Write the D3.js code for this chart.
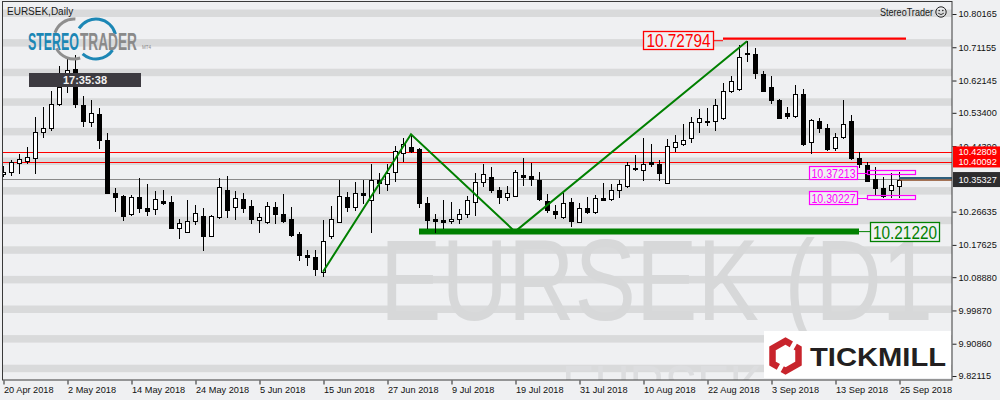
<!DOCTYPE html>
<html><head><meta charset="utf-8">
<script src="https://cdn.jsdelivr.net/npm/d3@7"></script>
<style>
html,body{margin:0;padding:0;background:#eff0f2;}
svg{display:block;font-family:"Liberation Sans",Arial,sans-serif;}
</style>
</head><body>
<svg id="chart" width="1000" height="400"></svg>
<script>
// ---------------- data ----------------
const symbolName = "EURSEK";
const periodName = "Daily";
const xTickLabels = ["20 Apr 2018","2 May 2018","14 May 2018","24 May 2018","5 Jun 2018","15 Jun 2018","27 Jun 2018","9 Jul 2018","19 Jul 2018","31 Jul 2018","10 Aug 2018","22 Aug 2018","3 Sep 2018","13 Sep 2018","25 Sep 2018"];
const yTickValues = [10.80165,10.71155,10.62145,10.53400,10.44390,10.26635,10.17625,10.08880,9.99870,9.90860,9.82115];

const open = [10.368,10.373,10.397,10.403,10.412,10.481,10.492,10.559,10.639,10.652,10.555,10.510,10.531,10.460,10.316,10.309,10.261,10.306,10.276,10.273,
10.295,10.292,10.221,10.212,10.242,10.255,10.201,10.253,10.325,10.278,10.301,10.282,10.243,10.239,10.278,10.260,10.246,10.206,10.149,10.144,
10.104,10.199,10.239,10.306,10.278,10.317,10.297,10.352,10.340,10.373,10.424,10.441,10.435,10.289,10.247,10.244,10.240,10.247,10.259,10.293,
10.346,10.360,10.325,10.307,10.310,10.366,10.363,10.352,10.295,10.268,10.253,10.293,10.239,10.275,10.266,10.303,10.300,10.325,10.336,10.384,
10.378,10.402,10.395,10.345,10.441,10.450,10.465,10.508,10.513,10.511,10.519,10.594,10.598,10.695,10.693,10.639,10.603,10.569,10.533,10.526,
10.585,10.454,10.512,10.494,10.438,10.468,10.513,10.412,10.394,10.354,10.330,10.324,10.337];
const high = [10.390,10.406,10.422,10.441,10.524,10.549,10.594,10.661,10.683,10.691,10.580,10.569,10.547,10.479,10.330,10.312,10.312,10.358,10.341,10.323,
10.325,10.309,10.246,10.298,10.284,10.276,10.257,10.358,10.363,10.322,10.316,10.298,10.262,10.293,10.293,10.314,10.278,10.212,10.163,10.163,
10.244,10.282,10.352,10.320,10.347,10.352,10.395,10.370,10.395,10.444,10.465,10.476,10.438,10.305,10.260,10.298,10.293,10.274,10.309,10.372,
10.395,10.388,10.334,10.336,10.379,10.412,10.397,10.375,10.314,10.284,10.316,10.303,10.289,10.307,10.312,10.345,10.341,10.352,10.402,10.420,
10.465,10.450,10.406,10.464,10.474,10.505,10.523,10.544,10.546,10.571,10.616,10.634,10.718,10.728,10.709,10.648,10.634,10.571,10.549,10.609,
10.599,10.518,10.519,10.504,10.480,10.569,10.528,10.427,10.402,10.388,10.361,10.370,10.375];
const low = [10.363,10.366,10.370,10.398,10.372,10.469,10.488,10.555,10.590,10.551,10.499,10.499,10.440,10.316,10.269,10.244,10.257,10.266,10.257,10.260,
10.287,10.221,10.196,10.210,10.233,10.163,10.200,10.248,10.253,10.246,10.266,10.235,10.212,10.236,10.235,10.238,10.200,10.135,10.122,10.095,
10.093,10.196,10.237,10.269,10.271,10.289,10.212,10.318,10.325,10.350,10.404,10.428,10.278,10.221,10.212,10.221,10.235,10.236,10.251,10.257,
10.336,10.320,10.291,10.298,10.309,10.339,10.339,10.298,10.266,10.248,10.248,10.227,10.237,10.263,10.262,10.297,10.297,10.307,10.334,10.379,
10.352,10.389,10.351,10.344,10.431,10.448,10.456,10.483,10.501,10.488,10.518,10.591,10.597,10.673,10.628,10.592,10.561,10.520,10.519,10.522,
10.448,10.424,10.481,10.433,10.433,10.467,10.408,10.388,10.350,10.312,10.306,10.305,10.307];
const close = [10.374,10.400,10.408,10.415,10.481,10.492,10.557,10.604,10.650,10.557,10.512,10.534,10.460,10.318,10.307,10.255,10.306,10.277,10.269,10.300,
10.290,10.223,10.235,10.242,10.262,10.199,10.255,10.332,10.272,10.303,10.277,10.246,10.251,10.282,10.259,10.242,10.203,10.150,10.144,10.110,
10.186,10.246,10.308,10.280,10.316,10.311,10.352,10.345,10.370,10.431,10.449,10.431,10.289,10.244,10.242,10.238,10.246,10.259,10.298,10.347,
10.368,10.325,10.307,10.316,10.374,10.360,10.355,10.301,10.271,10.259,10.289,10.242,10.275,10.266,10.303,10.298,10.325,10.341,10.393,10.381,
10.395,10.395,10.372,10.444,10.454,10.460,10.509,10.519,10.510,10.555,10.593,10.620,10.684,10.692,10.643,10.594,10.569,10.521,10.526,10.585,
10.449,10.515,10.492,10.436,10.468,10.503,10.411,10.395,10.350,10.330,10.309,10.339,10.35327];

const resistanceLevels = [10.42809, 10.40092];
const lastPrice = 10.35327;
const peakLevel = 10.72794;
const supportLevel = 10.21220;
const boxLevels = [10.37213, 10.30227];
const zigzagBars = [40, 51, 64, 93];
const zigzagPrices = [10.1037, 10.4758, 10.2122, 10.72794];
const clockText = "17:35:38";

// ---------------- layout ----------------
const svg = d3.select("#chart");
const L = 3, R = 952, T = 2, B = 380;
const BG = "#eff0f2", BAND = "#d9dadb";

const x = d3.scaleLinear().domain([0, 112]).range([3, 899]);
const y = d3.scaleLinear().domain([9.82115, 10.80165]).range([376, 14]);
const px = i => Math.round(x(i));
const py = v => Math.round(y(v));

svg.append("rect").attr("width",1000).attr("height",400).attr("fill",BG);

const defs = svg.append("defs");
defs.append("clipPath").attr("id","plot").append("rect")
  .attr("x",L).attr("y",T).attr("width",R-L).attr("height",B-T);

const plot = svg.append("g").attr("clip-path","url(#plot)");

// background bands
plot.selectAll("rect.band").data(d3.range(13)).join("rect")
  .attr("class","band").attr("x",L).attr("width",R-L)
  .attr("y",k => 9.5 + 29.6*k).attr("height",7.5).attr("fill",BAND);

// watermark
plot.append("text").attr("x",380).attr("y",320)
  .attr("font-size",115).attr("fill","#d7d8d9")
  .attr("textLength",553).attr("lengthAdjust","spacingAndGlyphs")
  .text(symbolName + " (D1");
plot.append("text").attr("x",562).attr("y",407)
  .attr("font-size",60).attr("fill","#dcdddf")
  .attr("textLength",200).attr("lengthAdjust","spacingAndGlyphs")
  .text(symbolName);

// full-width horizontal lines
plot.selectAll("line.res").data(resistanceLevels).join("line")
  .attr("x1",L).attr("x2",R).attr("y1",d=>py(d)+0.5).attr("y2",d=>py(d)+0.5)
  .attr("stroke","#ff0000").attr("stroke-width",1);
plot.append("line").attr("x1",L).attr("x2",R)
  .attr("y1",py(lastPrice)-0.5).attr("y2",py(lastPrice)-0.5)
  .attr("stroke","#8a8a8a").attr("stroke-width",1);

// support thick line + label
const sy = y(supportLevel);
plot.append("line").attr("x1",x(52)).attr("x2",x(107)).attr("y1",sy).attr("y2",sy)
  .attr("stroke","#008000").attr("stroke-width",6);
plot.append("line").attr("x1",x(107)).attr("x2",870).attr("y1",sy).attr("y2",sy)
  .attr("stroke","#008000").attr("stroke-width",1);
plot.append("rect").attr("x",870.5).attr("y",Math.round(sy)-9.5).attr("width",69).attr("height",19)
  .attr("fill",BG).attr("stroke","#008000").attr("stroke-width",1.3);
plot.append("text").attr("x",905).attr("y",Math.round(sy)+6.5).attr("text-anchor","middle")
  .attr("font-size",18.5).attr("fill","#008000")
  .attr("textLength",64).attr("lengthAdjust","spacingAndGlyphs")
  .text(d3.format(".5f")(supportLevel));

// candles
const idx = d3.range(open.length);
const cg = plot.append("g");
cg.selectAll("line.wick").data(idx).join("line")
  .attr("x1",i=>px(i)+0.5).attr("x2",i=>px(i)+0.5)
  .attr("y1",i=>py(high[i])).attr("y2",i=>py(low[i])+1)
  .attr("stroke","#000").attr("stroke-width",1);
cg.selectAll("rect.body").data(idx).join("rect")
  .attr("x",i=> close[i]>=open[i] ? px(i)-1.5 : px(i)-2)
  .attr("width",i=> close[i]>=open[i] ? 4 : 5)
  .attr("y",i=>{const t=py(Math.max(open[i],close[i])); return close[i]>=open[i] ? t+0.5 : t;})
  .attr("height",i=>{const h=Math.abs(py(open[i])-py(close[i])); return close[i]>=open[i] ? Math.max(h,1) : Math.max(h,1)+1;})
  .attr("fill",i=> close[i]>=open[i] ? "#ffffff" : "#000000")
  .attr("stroke",i=> close[i]>=open[i] ? "#000" : "none")
  .attr("stroke-width",1);

// peak level line + label
const ry = y(peakLevel) - 2.5;
plot.append("line").attr("x1",x(90)).attr("x2",906).attr("y1",ry).attr("y2",ry)
  .attr("stroke","#ff0000").attr("stroke-width",2.2);
plot.append("line").attr("x1",713).attr("x2",x(90)).attr("y1",ry+2).attr("y2",ry+2)
  .attr("stroke","#ff0000").attr("stroke-width",1);
plot.append("rect").attr("x",643.5).attr("y",31.5).attr("width",70).attr("height",18)
  .attr("fill",BG).attr("stroke","#ff0000").attr("stroke-width",1.3);
plot.append("text").attr("x",678.5).attr("y",47).attr("text-anchor","middle")
  .attr("font-size",18.5).attr("fill","#ff0000")
  .attr("textLength",64).attr("lengthAdjust","spacingAndGlyphs")
  .text(d3.format(".5f")(peakLevel));

// zigzag
plot.append("path")
  .attr("d", d3.line().x(d=>x(d[0])).y(d=>y(d[1]))(zigzagBars.map((b,k)=>[b,zigzagPrices[k]])))
  .attr("fill","none").attr("stroke","#008000").attr("stroke-width",2);

// magenta boxes
const mg = "#ff00ff";
boxLevels.forEach(v => {
  const cy = Math.round(y(v));
  plot.append("rect").attr("x",x(108)+0.5).attr("y",cy-2.5).attr("width",x(114)-x(108)).attr("height",4)
    .attr("fill","none").attr("stroke",mg).attr("stroke-width",1.2);
  plot.append("line").attr("x1",857).attr("x2",x(108)).attr("y1",cy+0.5).attr("y2",cy+0.5)
    .attr("stroke",mg).attr("stroke-width",1);
  plot.append("rect").attr("x",809.5).attr("y",cy-6.5).attr("width",48).attr("height",13)
    .attr("fill",BG).attr("stroke",mg).attr("stroke-width",1.2);
  plot.append("text").attr("x",833.5).attr("y",cy+4.5).attr("text-anchor","middle")
    .attr("font-size",12.5).attr("fill",mg)
    .attr("textLength",44).attr("lengthAdjust","spacingAndGlyphs")
    .text(d3.format(".5f")(v));
});

// current price segment
const cy0 = y(lastPrice);
plot.append("line").attr("x1",x(112)).attr("x2",R).attr("y1",cy0-1.5).attr("y2",cy0-1.5)
  .attr("stroke","#2e5f7c").attr("stroke-width",2);
plot.append("line").attr("x1",x(112)).attr("x2",R).attr("y1",cy0+0.5).attr("y2",cy0+0.5)
  .attr("stroke","#8b4a22").attr("stroke-width",1.2);

// frame
svg.append("rect").attr("x",2.5).attr("y",1.5).attr("width",R-2.5).attr("height",B-1.5)
  .attr("fill","none").attr("stroke","#3a3a3a").attr("stroke-width",1);

// axes
const yAxis = svg.append("g").attr("transform",`translate(${R+0.5},0)`)
  .call(d3.axisRight(y).tickValues(yTickValues).tickFormat(d3.format(".5f")).tickSize(4).tickPadding(2));
yAxis.select(".domain").remove();
yAxis.selectAll("line").attr("stroke","#222");
yAxis.selectAll("text").attr("font-size",9.2).attr("fill","#111").attr("font-family","Liberation Sans, Arial, sans-serif");

const xAxis = svg.append("g").attr("transform",`translate(0.5,${B+0.5})`)
  .call(d3.axisBottom(x).tickValues(d3.range(0,113,8)).tickFormat((d,i)=>xTickLabels[i]).tickSize(4));
xAxis.select(".domain").remove();
xAxis.selectAll("line").attr("stroke","#222");
xAxis.selectAll("text").attr("text-anchor","start").attr("x",0).attr("y",6).attr("dy","0.71em")
  .attr("font-size",9.2).attr("fill","#111").attr("font-family","Liberation Sans, Arial, sans-serif");

// axis price labels
resistanceLevels.forEach(v => {
  const c = y(v);
  svg.append("rect").attr("x",953).attr("y",c-5.5).attr("width",47).attr("height",11).attr("fill","#ff0000");
});
resistanceLevels.forEach(v => {
  svg.append("text").attr("x",958.5).attr("y",y(v)+3.3).attr("font-size",9.2).attr("fill","#fff")
    .text(d3.format(".5f")(v));
});
svg.append("rect").attr("x",953).attr("y",cy0-7.5).attr("width",47).attr("height",15).attr("fill","#2d2d2f");
svg.append("text").attr("x",958.5).attr("y",cy0+3.3).attr("font-size",9.2).attr("fill","#fff")
  .text(d3.format(".5f")(lastPrice));

// title
svg.append("text").attr("x",7).attr("y",14.5).attr("font-size",10).attr("fill","#1a1a1a")
  .text(symbolName + "," + periodName);
svg.append("text").attr("x",880).attr("y",15.5).attr("font-size",10).attr("fill","#1a1a1a")
  .attr("textLength",53).attr("lengthAdjust","spacingAndGlyphs").text("StereoTrader");
const sm = svg.append("g").attr("transform","translate(941,12)");
sm.append("circle").attr("r",5.2).attr("fill","none").attr("stroke","#222").attr("stroke-width",1);
sm.append("circle").attr("cx",-1.8).attr("cy",-1.5).attr("r",0.8).attr("fill","#222");
sm.append("circle").attr("cx",1.8).attr("cy",-1.5).attr("r",0.8).attr("fill","#222");
sm.append("path").attr("d","M-2.8,1.2 Q0,4 2.8,1.2").attr("fill","none").attr("stroke","#222").attr("stroke-width",0.9);

// StereoTrader logo
const deg = Math.PI/180;
const arc = d3.arc().innerRadius(18.5).outerRadius(21.5);
const lg = svg.append("g");
lg.append("path").attr("transform","translate(74,39)").attr("fill","#8e8e8e")
  .attr("d",arc({startAngle:-72*deg,endAngle:4*deg}));
lg.append("path").attr("transform","translate(74,39)").attr("fill","#8e8e8e")
  .attr("d",arc({startAngle:162*deg,endAngle:242*deg}));
lg.append("path").attr("transform","translate(96,39)").attr("fill","#1c87b5")
  .attr("d",arc({startAngle:-58*deg,endAngle:76*deg}));
lg.append("path").attr("transform","translate(96,39)").attr("fill","#1c87b5")
  .attr("d",arc({startAngle:124*deg,endAngle:222*deg}));
lg.append("text").attr("x",28).attr("y",50).attr("font-size",24).attr("font-weight","bold")
  .attr("fill","#1c87b5").attr("textLength",51).attr("lengthAdjust","spacingAndGlyphs").text("STEREO");
lg.append("text").attr("x",80).attr("y",50).attr("font-size",24).attr("font-weight","bold")
  .attr("fill","#8a8a8a").attr("textLength",57).attr("lengthAdjust","spacingAndGlyphs").text("TRADER");
lg.append("text").attr("x",142).attr("y",49).attr("font-size",4.5).attr("fill","#8a8a8a").text("MT4");

// clock box
svg.append("rect").attr("x",29).attr("y",73).attr("width",112).attr("height",14).attr("fill","#3d3b41");
svg.append("text").attr("x",85).attr("y",84).attr("text-anchor","middle").attr("font-size",11)
  .attr("font-weight","bold").attr("fill","#f2f2f2").text(clockText);

// Tickmill logo
svg.append("rect").attr("x",764).attr("y",331).attr("width",187).attr("height",47).attr("fill","#ffffff");
const hx = 785.5, hy = 356, hr = 15;
const hv = d3.range(6).map(k => [hx + hr*Math.cos((-90+60*k)*deg), hy + hr*Math.sin((-90+60*k)*deg)]);
const lerp = (a,b,t) => [a[0]+(b[0]-a[0])*t, a[1]+(b[1]-a[1])*t];
// vertices: 0 top,1 upper-right,2 lower-right,3 bottom,4 lower-left,5 upper-left
const pieceA = [lerp(hv[1],hv[0],0.55), hv[0], hv[5], hv[4], lerp(hv[4],hv[3],0.45)];
const pieceB = [lerp(hv[4],hv[3],0.75), hv[3], hv[2], hv[1], lerp(hv[1],hv[0],0.25)];
[pieceA,pieceB].forEach(p => svg.append("path").attr("d",d3.line()(p))
  .attr("fill","none").attr("stroke","#c8242c").attr("stroke-width",6.5).attr("stroke-linejoin","miter"));
svg.append("text").attr("x",810).attr("y",366).attr("font-size",26.5).attr("font-weight","bold")
  .attr("fill","#231f20").attr("textLength",136).attr("lengthAdjust","spacingAndGlyphs").text("TICKMILL");
</script>
</body></html>
